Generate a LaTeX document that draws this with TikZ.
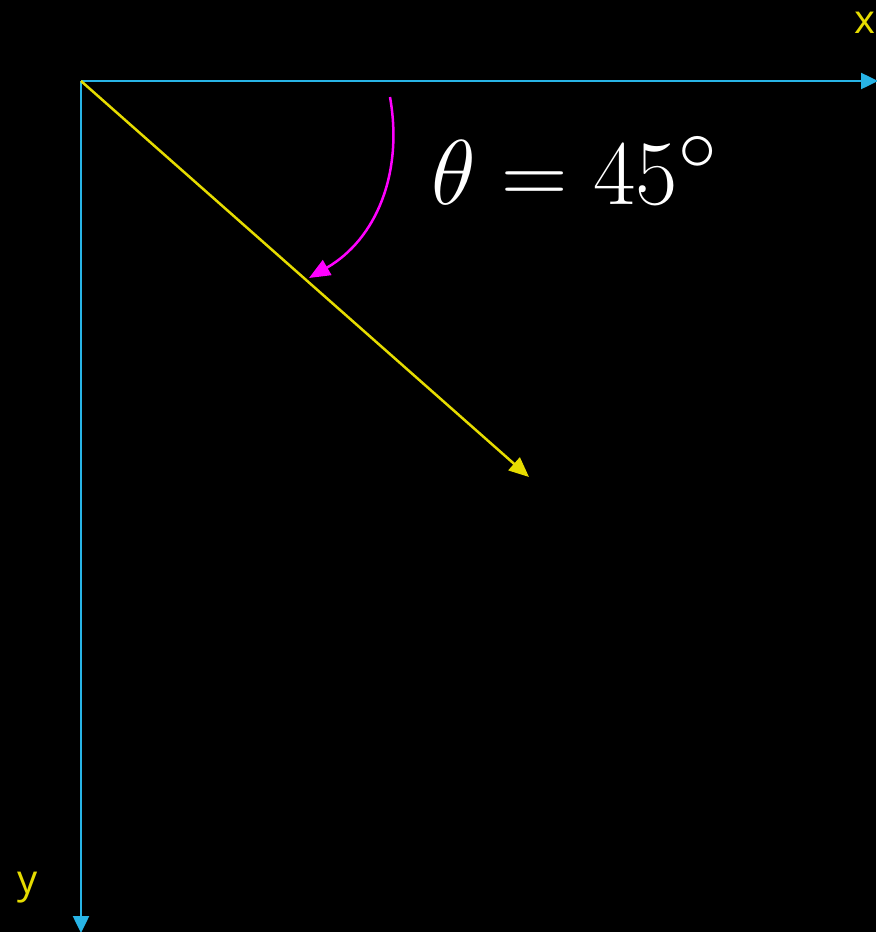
\documentclass[tikz,border=0pt]{standalone}
\usepackage{fontspec}
\newfontfamily\axisfont{Open Sans}
\usetikzlibrary{arrows.meta}

\definecolor{axiscyan}{RGB}{40,180,230}
\definecolor{rayyellow}{RGB}{230,220,0}
\definecolor{anglemag}{RGB}{255,0,255}

\begin{document}
\begin{tikzpicture}[
    x=1pt, y=-1pt,
    axis/.style={draw=axiscyan, line width=2.5pt, -{Triangle[length=17pt, width=16pt]}},
    ray/.style={draw=rayyellow, line width=2.5pt, -{Triangle[length=20pt, width=17pt]}},
    anglearrow/.style={draw=anglemag, line width=2.5pt, -{Triangle[length=21pt, width=17pt]}},
    axislabel/.style={text=rayyellow, font=\axisfont\fontsize{40}{44}\selectfont, inner sep=0pt, anchor=base}
]

    \fill[black] (0,0) rectangle (876,932);
    \useasboundingbox (0,0) rectangle (876,932);

    \coordinate (origin) at (81,81);
    \coordinate (xend) at (878,81);
    \coordinate (yend) at (81,933);
    \coordinate (raytip) at (529,477);
    \coordinate (arcstart) at (390,97);
    \coordinate (arcend) at (309,278);

    \draw[axis] (origin) -- (xend);
    \draw[axis] (origin) -- (yend);
    \draw[ray] (origin) -- (raytip);
    \draw[anglearrow] (arcstart) to[out=-80, in=30] (arcend);

    \node[axislabel] (xlabel) at (865,33) {x};
    \node[axislabel] (ylabel) at (28,893) {y};
    \node[text=white, inner sep=0pt, anchor=base west, font=\Huge, scale=3.7] (anglelabel) at (431,204) {$\theta = 45^\circ$};

\end{tikzpicture}
\end{document}
